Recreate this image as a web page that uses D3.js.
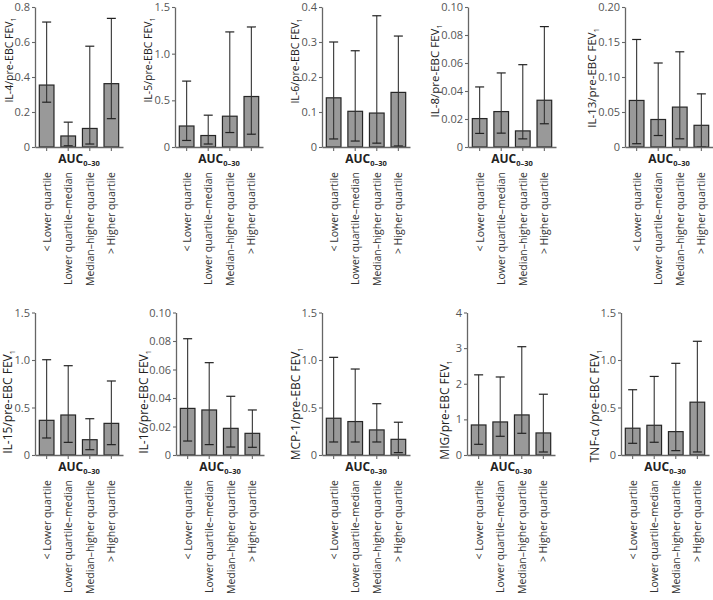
<!DOCTYPE html>
<html><head><meta charset="utf-8">
<script src="https://cdn.jsdelivr.net/npm/d3@7"></script>
<style>body{margin:0;background:#fff}svg{display:block}</style>
</head><body>
<script>
// ---------- data ----------
const categories = ["< Lower quartile", "Lower quartile\u2013median", "Median\u2013higher quartile", "> Higher quartile"];
const markers = ["IL-4", "IL-5", "IL-6", "IL-8", "IL-13", "IL-15", "IL-16", "MCP-1", "MIG", "TNF-\u03b1 "];

const il4Mean = [0.354, 0.063, 0.106, 0.362];
const il4Low  = [0.256, 0.007, 0.017, 0.162];
const il4High = [0.714, 0.142, 0.576, 0.735];

const il5Mean = [0.225, 0.123, 0.330, 0.541];
const il5Low  = [0.070, 0.032, 0.155, 0.137];
const il5High = [0.706, 0.341, 1.233, 1.286];

const il6Mean = [0.1405, 0.102, 0.097, 0.156];
const il6Low  = [0.023, 0.017, 0.011, 0.003];
const il6High = [0.300, 0.275, 0.375, 0.317];

const il8Mean = [0.0203, 0.0253, 0.0115, 0.0334];
const il8Low  = [0.0097, 0.0099, 0.0058, 0.0166];
const il8High = [0.0429, 0.0529, 0.0588, 0.0860];

const il13Mean = [0.0665, 0.0393, 0.0570, 0.0310];
const il13Low  = [0.0047, 0.0164, 0.0117, 0.0];
const il13High = [0.1536, 0.1200, 0.1360, 0.0759];

const il15Mean = [0.365, 0.421, 0.161, 0.333];
const il15Low  = [0.179, 0.133, 0.056, 0.109];
const il15High = [1.003, 0.940, 0.382, 0.779];

const il16Mean = [0.0327, 0.0316, 0.0187, 0.0152];
const il16Low  = [0.0098, 0.0073, 0.0056, 0.0054];
const il16High = [0.0816, 0.0648, 0.0412, 0.0316];

const mcp1Mean = [0.387, 0.352, 0.264, 0.165];
const mcp1Low  = [0.137, 0.137, 0.137, 0.025];
const mcp1High = [1.028, 0.905, 0.540, 0.345];

const migMean = [0.843, 0.928, 1.125, 0.619];
const migLow  = [0.300, 0.525, 0.609, 0.084];
const migHigh = [2.250, 2.190, 3.040, 1.706];

const tnfMean = [0.282, 0.313, 0.246, 0.556];
const tnfLow  = [0.123, 0.134, 0.046, 0.032];
const tnfHigh = [0.687, 0.827, 0.965, 1.197];

const yMax = [0.8, 1.5, 0.4, 0.10, 0.20, 1.5, 0.10, 1.5, 4, 1.5];
const yTickValues = [
  [0, 0.2, 0.4, 0.6, 0.8], [0, 0.5, 1.0, 1.5], [0, 0.1, 0.2, 0.3, 0.4],
  [0, 0.02, 0.04, 0.06, 0.08, 0.10], [0, 0.05, 0.10, 0.15, 0.20],
  [0, 0.5, 1.0, 1.5], [0, 0.02, 0.04, 0.06, 0.08, 0.10], [0, 0.5, 1.0, 1.5],
  [0, 1, 2, 3, 4], [0, 0.5, 1.0, 1.5]
];
const yTickLabels = [
  ["0", "0.2", "0.4", "0.6", "0.8"], ["0", "0.5", "1.0", "1.5"], ["0", "0.1", "0.2", "0.3", "0.4"],
  ["0", "0.02", "0.04", "0.06", "0.08", "0.10"], ["0", "0.05", "0.10", "0.15", "0.20"],
  ["0", "0.5", "1.0", "1.5"], ["0", "0.02", "0.04", "0.06", "0.08", "0.10"], ["0", "0.5", "1.0", "1.5"],
  ["0", "1", "2", "3", "4"], ["0", "0.5", "1.0", "1.5"]
];
const seriesMean = [il4Mean, il5Mean, il6Mean, il8Mean, il13Mean, il15Mean, il16Mean, mcp1Mean, migMean, tnfMean];
const seriesLow  = [il4Low, il5Low, il6Low, il8Low, il13Low, il15Low, il16Low, mcp1Low, migLow, tnfLow];
const seriesHigh = [il4High, il5High, il6High, il8High, il13High, il15High, il16High, mcp1High, migHigh, tnfHigh];

// ---------- layout ----------
const W = 713, H = 600;
const axisX = [35, 175, 322, 468, 625, 35, 176, 322, 467, 621];
const rowBase = [147, 455], rowTop = [7, 312.5];
const yLabelX = [13, 152, 299, 439, 596, 12, 148, 300, 449, 599];
const yLabelY = [60, 60, 61, 71, 78, 402, 402, 404, 410, 406];
const yLabelSize = [10.5, 10.5, 10.5, 11.5, 11.5, 12, 12, 12, 12, 12];
const plotW = 88;
const font = "'Open Sans', 'Noto Sans', sans-serif";

const svg = d3.select("body").append("svg").attr("width", W).attr("height", H)
  .style("font-family", font);

markers.forEach((m, i) => {
  const row = i < 5 ? 0 : 1;
  const base = rowBase[row], top = rowTop[row];
  const ax = axisX[i];
  const g = svg.append("g");
  const y = d3.scaleLinear().domain([0, yMax[i]]).range([base, top]);
  const x = d3.scaleBand().domain(categories).range([ax, ax + plotW])
    .paddingInner(0.32).paddingOuter(0.2);
  const bw = x.bandwidth();

  // bars
  g.selectAll("rect.bar").data(categories).join("rect")
    .attr("x", c => x(c)).attr("width", bw)
    .attr("y", (c, k) => y(seriesMean[i][k]))
    .attr("height", (c, k) => base - y(seriesMean[i][k]))
    .attr("fill", "#999999").attr("stroke", "#262626").attr("stroke-width", 1.2);

  // error bars
  const eb = g.selectAll("g.eb").data(categories).join("g");
  eb.append("line")
    .attr("x1", c => x(c) + bw / 2).attr("x2", c => x(c) + bw / 2)
    .attr("y1", (c, k) => y(seriesLow[i][k])).attr("y2", (c, k) => y(seriesHigh[i][k]))
    .attr("stroke", "#333").attr("stroke-width", 1.1);
  [seriesLow[i], seriesHigh[i]].forEach(arr => {
    eb.append("line")
      .attr("x1", c => x(c) + bw / 2 - 4.5).attr("x2", c => x(c) + bw / 2 + 4.5)
      .attr("y1", (c, k) => y(arr[k])).attr("y2", (c, k) => y(arr[k]))
      .attr("stroke", "#222").attr("stroke-width", 1.2);
  });

  // y axis
  const ya = g.append("g").attr("transform", `translate(${ax},0)`)
    .call(d3.axisLeft(y).tickValues(yTickValues[i])
      .tickFormat((d, j) => yTickLabels[i][j]).tickSize(3).tickSizeOuter(0).tickPadding(2));
  ya.select(".domain").attr("stroke", "#666").attr("stroke-width", 1.3);
  ya.selectAll(".tick line").attr("stroke", "#666").attr("stroke-width", 1.1);
  ya.selectAll(".tick text").attr("fill", "#555").style("font-size", "11px").style("font-family", font);

  // x axis
  const xa = g.append("g").attr("transform", `translate(0,${base})`)
    .call(d3.axisBottom(x).tickSize(4).tickSizeOuter(0).tickFormat(""));
  xa.select(".domain").attr("stroke", "#666").attr("stroke-width", 1.3);
  xa.selectAll(".tick line").attr("stroke", "#666").attr("stroke-width", 1.1);

  // AUC label
  const auc = g.append("text").attr("x", ax + plotW / 2).attr("y", base + 16)
    .attr("text-anchor", "middle").attr("fill", "#222")
    .style("font-size", "12px").style("font-weight", "bold");
  auc.append("tspan").text("AUC");
  auc.append("tspan").attr("dy", 3).style("font-size", "7.5px").text("0\u201330");

  // category labels
  g.selectAll("text.cat").data(categories).join("text")
    .attr("class", "cat")
    .attr("transform", c => `translate(${x(c) + bw / 2 + 4},${base + 25}) rotate(-90)`)
    .attr("text-anchor", "end").attr("fill", "#333")
    .style("font-size", "10.5px")
    .text(c => c);

  // y label
  const yl = g.append("text")
    .attr("transform", `translate(${yLabelX[i]},${yLabelY[i]}) rotate(-90)`)
    .attr("text-anchor", "middle").attr("fill", "#222")
    .style("font-size", yLabelSize[i] + "px");
  yl.append("tspan").text(m + "/pre-EBC FEV");
  yl.append("tspan").attr("dy", 3).style("font-size", "7px").text("1");
});
</script>
</body></html>
